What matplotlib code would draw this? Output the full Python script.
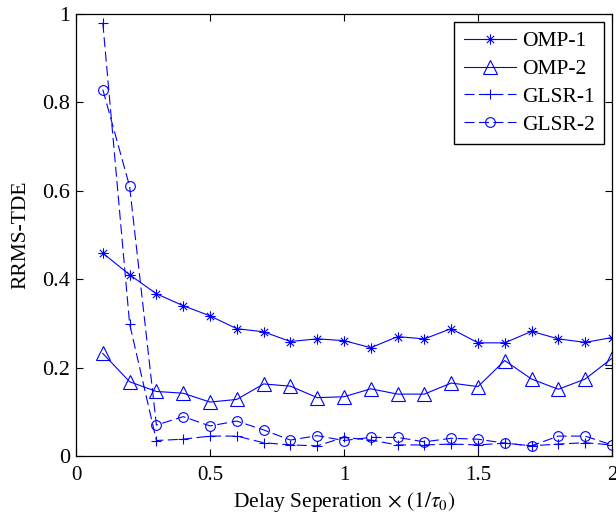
import numpy as np
import matplotlib
matplotlib.use("Agg")
import matplotlib.pyplot as plt
from matplotlib.path import Path

plt.rcParams['font.family'] = ['Liberation Serif', 'DejaVu Serif']
plt.rcParams['mathtext.fontset'] = 'stix'
plt.rcParams['font.size'] = 15

# delay separation (in units of 1/tau_0)
sep = [0.1, 0.2, 0.3, 0.4, 0.5, 0.6, 0.7, 0.8, 0.9, 1.0,
       1.1, 1.2, 1.3, 1.4, 1.5, 1.6, 1.7, 1.8, 1.9, 2.0]

omp1 = [0.459, 0.410, 0.367, 0.340, 0.317, 0.288, 0.281, 0.259, 0.265, 0.261,
        0.245, 0.270, 0.265, 0.288, 0.256, 0.256, 0.282, 0.265, 0.257, 0.268]
omp2 = [0.232, 0.168, 0.146, 0.142, 0.122, 0.128, 0.163, 0.158, 0.132, 0.134,
        0.152, 0.140, 0.140, 0.165, 0.157, 0.216, 0.174, 0.151, 0.174, 0.221]
glsr1 = [0.980, 0.299, 0.035, 0.038, 0.045, 0.045, 0.030, 0.025, 0.023, 0.042,
         0.036, 0.025, 0.025, 0.027, 0.025, 0.029, 0.023, 0.027, 0.030, 0.025]
glsr2 = [0.829, 0.610, 0.070, 0.089, 0.068, 0.079, 0.059, 0.036, 0.046, 0.035,
         0.042, 0.042, 0.032, 0.040, 0.038, 0.029, 0.023, 0.045, 0.045, 0.025]

labels = ['OMP-1', 'OMP-2', 'GLSR-1', 'GLSR-2']

# matlab-like asterisk: plus and cross drawn as strokes
d = 0.7
asterisk = Path([(-1, 0), (1, 0), (0, -1), (0, 1), (-d, -d), (d, d), (-d, d), (d, -d)],
                [Path.MOVETO, Path.LINETO] * 4)

fig = plt.figure(figsize=(6.16, 5.2), dpi=100)
ax = fig.add_axes([0.1234, 0.1231, 0.870, 0.850])

blue = (0, 0, 1)
lw = 0.8
ax.plot(sep, omp1, color=blue, lw=lw, marker=asterisk, ms=7.5, mew=lw,
        label=labels[0])
ax.plot(sep, omp2, color=blue, lw=lw, marker='^', ms=10, mfc='none', mew=lw,
        label=labels[1])
ax.plot(sep, glsr1, color=blue, lw=lw, ls='--', dashes=(9, 4), marker='+', ms=7.5,
        mew=lw, label=labels[2])
ax.plot(sep, glsr2, color=blue, lw=lw, ls='--', dashes=(9, 4), marker='o', ms=7,
        mfc='none', mew=lw, label=labels[3])

ax.set_xlim(0, 2)
ax.set_ylim(0, 1)
ax.set_xticks([0, 0.5, 1, 1.5, 2])
ax.set_xticklabels(['0', '0.5', '1', '1.5', '2'])
ax.set_yticks([0, 0.2, 0.4, 0.6, 0.8, 1])
ax.set_yticklabels(['0', '0.2', '0.4', '0.6', '0.8', '1'])
ax.tick_params(direction='in', top=True, right=True, length=5, width=0.8)
ax.tick_params(axis='x', pad=7)
ax.tick_params(axis='y', pad=4.5, labelsize=16)
for s in ax.spines.values():
    s.set_linewidth(0.9)

ax.set_xlabel(r'Delay Seperation $\times$ $(1/\tau_0)$', fontsize=15.5, labelpad=4)
ax.set_ylabel('RRMS-TDE', fontsize=15.5, labelpad=8)

leg = ax.legend(loc='upper right', fancybox=False, framealpha=1, edgecolor='black',
                fontsize=15.5, handlelength=2.4, borderaxespad=0.35,
                labelspacing=0.36, handletextpad=0.3, borderpad=0.45)
leg.get_frame().set_linewidth(1.0)

fig.savefig('out.png', dpi=100)
